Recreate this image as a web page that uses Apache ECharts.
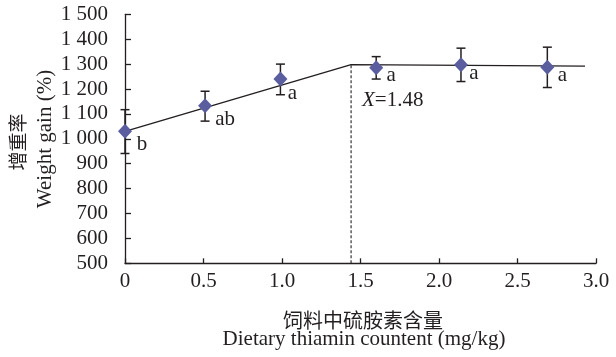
<!DOCTYPE html>
<html>
<head>
<meta charset="utf-8">
<script src="https://cdn.jsdelivr.net/npm/echarts@6/dist/echarts.min.js"></script>
<style>html,body{margin:0;padding:0;background:#fff;}#c{width:616px;height:357px;}</style>
</head>
<body>
<div id="c"></div>
<script>
// ---- data ----
const thiaminLevels = [0, 0.51, 0.99, 1.6, 2.14, 2.69];
const weightGain    = [1030, 1133, 1240, 1285, 1297, 1287];
const errUpper      = [87, 58, 60, 45, 67, 81];
const errLower      = [89, 62, 63, 45, 67, 81];
const letters       = ['b', 'ab', 'a', 'a', 'a', 'a'];
const fitX          = [0, 1.44, 2.93];
const fitY          = [1030, 1298, 1292];
const breakX        = 1.44;
const breakLabel    = '1.48';
const yTicks        = [500, 600, 700, 800, 900, 1000, 1100, 1200, 1300, 1400, 1500];
const xTicks        = [0, 0.5, 1.0, 1.5, 2.0, 2.5, 3.0];
const xNameCN = '饲料中硫胺素含量';
const xNameEN = 'Dietary thiamin countent (mg/kg)';
const yNameCN = '增重率';
const yNameEN = 'Weight gain (%)';

// ---- styles ----
const INK = '#231f20';
const DIAMOND = '#5a5d9e';
const SERIF = 'Liberation Serif';
const CJK = 'Noto Sans CJK SC';
const letterOffsets = [[17, 13], [20, 14], [12, 14], [15, 8], [13, 9], [15, 8]];

const chart = echarts.init(document.getElementById('c'), null, {renderer: 'canvas'});

const pts = thiaminLevels.map((x, i) => [x, weightGain[i]]);
const errs = thiaminLevels.map((x, i) => [x, weightGain[i] - errLower[i], weightGain[i] + errUpper[i]]);
const fit = fitX.map((x, i) => [x, fitY[i]]);

function fmtY(v) {
  if (v >= 1000) return Math.floor(v / 1000) + ' ' + String(v % 1000).padStart(3, '0');
  return String(v);
}

const option = {
  animation: false,
  backgroundColor: '#fff',
  grid: {left: 125, right: 20, top: 14.3, bottom: 93.7, containLabel: false},
  xAxis: {
    type: 'value', min: xTicks[0], max: xTicks[xTicks.length - 1], interval: 0.5,
    axisLine: {show: true, lineStyle: {color: INK, width: 1.3}},
    axisTick: {show: true, inside: true, length: 5, lineStyle: {color: INK, width: 1.3}},
    splitLine: {show: false},
    axisLabel: {
      color: INK, fontFamily: SERIF, fontSize: 21, margin: 8,
      formatter: v => v === 0 ? '0' : v.toFixed(1)
    }
  },
  yAxis: {
    type: 'value', min: yTicks[0], max: yTicks[yTicks.length - 1], interval: 100,
    axisLine: {show: true, lineStyle: {color: INK, width: 1.3}},
    axisTick: {show: true, inside: true, length: 6, lineStyle: {color: INK, width: 1.3}},
    splitLine: {show: false},
    axisLabel: {color: INK, fontFamily: SERIF, fontSize: 21, margin: 17, formatter: fmtY}
  },
  series: [
    {
      type: 'line', data: fit, symbol: 'none', z: 2,
      lineStyle: {color: INK, width: 1.4}
    },
    {
      type: 'line', data: [[breakX, yTicks[0]], [breakX, fitY[1]]], symbol: 'none', z: 2,
      lineStyle: {color: INK, width: 1.1, type: [3, 2]}
    },
    {
      type: 'custom', z: 3,
      data: errs,
      renderItem: function (params, api) {
        const x = api.value(0);
        const lo = api.coord([x, api.value(1)]);
        const hi = api.coord([x, api.value(2)]);
        const hw = 4.5;
        const st = {stroke: INK, lineWidth: 1.5};
        return {
          type: 'group',
          children: [
            {type: 'line', shape: {x1: lo[0], y1: lo[1], x2: hi[0], y2: hi[1]}, style: st},
            {type: 'line', shape: {x1: lo[0] - hw, y1: lo[1], x2: lo[0] + hw, y2: lo[1]}, style: st},
            {type: 'line', shape: {x1: hi[0] - hw, y1: hi[1], x2: hi[0] + hw, y2: hi[1]}, style: st}
          ]
        };
      }
    },
    {
      type: 'scatter', z: 5,
      symbol: 'diamond', symbolSize: [14, 15],
      itemStyle: {color: DIAMOND, opacity: 1},
      data: pts.map((p, i) => ({
        value: p,
        label: {
          show: true, formatter: letters[i], position: 'inside',
          offset: letterOffsets[i], align: 'center', verticalAlign: 'middle',
          color: INK, fontFamily: SERIF, fontSize: 21
        }
      }))
    }
  ],
  graphic: [
    {
      type: 'text', left: 362, top: 90,
      style: {
        text: '{i|X}{n|=' + breakLabel + '}',
        rich: {
          i: {fontFamily: SERIF, fontStyle: 'italic', fontSize: 21, fill: INK},
          n: {fontFamily: SERIF, fontSize: 21, fill: INK}
        }
      }
    },
    {
      type: 'text', x: 363, y: 320,
      style: {text: xNameCN, font: '20px "' + CJK + '"', fill: INK, align: 'center', verticalAlign: 'middle'}
    },
    {
      type: 'text', x: 364, y: 339,
      style: {text: xNameEN, font: '21px "' + SERIF + '"', fill: INK, align: 'center', verticalAlign: 'middle'}
    },
    {
      type: 'text', x: 18, y: 142, rotation: Math.PI / 2,
      style: {text: yNameCN, font: '19px "' + CJK + '"', fill: INK, align: 'center', verticalAlign: 'middle'}
    },
    {
      type: 'text', x: 45, y: 139, rotation: Math.PI / 2,
      style: {text: yNameEN, font: '21px "' + SERIF + '"', fill: INK, align: 'center', verticalAlign: 'middle'}
    }
  ]
};
chart.setOption(option);
</script>
</body>
</html>
